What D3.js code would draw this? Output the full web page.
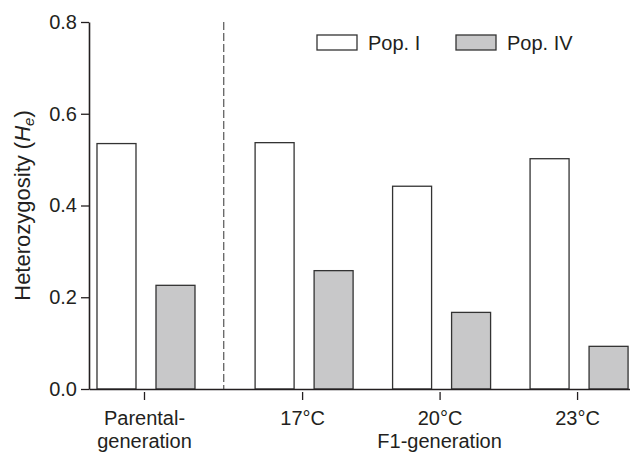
<!DOCTYPE html>
<html>
<head>
<meta charset="utf-8">
<script src="https://cdn.jsdelivr.net/npm/d3@7"></script>
<style>
  body { margin: 0; background: #fff; }
  text { font-family: "Liberation Sans", Arial, sans-serif; fill: #231f20; }
</style>
</head>
<body>
<div id="chart"></div>
<script>
// data
const categories = ['Parental-generation', '17°C', '20°C', '23°C'];
const categoryLines = [['Parental-', 'generation'], ['17°C'], ['20°C'], ['23°C']];
const series = ['Pop. I', 'Pop. IV'];
const popI = [0.535, 0.537, 0.442, 0.502];
const popIV = [0.226, 0.258, 0.167, 0.093];
const yTicks = [0, 0.2, 0.4, 0.6, 0.8];
const groupLabel = 'F1-generation';

// parental group sits a bit further away, past the dashed divider
const slot = [0, 1.15, 2.15, 3.15];
const dividerSlot = 0.58;

const width = 630, height = 454;
const colors = { 'Pop. I': '#ffffff', 'Pop. IV': '#c8c8c9' };

const svg = d3.select('#chart').append('svg')
  .attr('width', width)
  .attr('height', height);

const x = d3.scaleLinear().domain([-0.4, 3.535]).range([89, 630]);
const y = d3.scaleLinear().domain([0, 0.8]).range([389, 22]);
const sub = d3.scaleBand().domain(series).range([-47, 51]).paddingInner(0.339);

const rows = categories.map((c, i) => ({ cat: c, i, vals: [popI[i], popIV[i]] }));

// bars
const groups = svg.selectAll('.grp')
  .data(rows)
  .enter().append('g')
  .attr('class', 'grp')
  .attr('transform', d => 'translate(' + x(slot[d.i]) + ',0)');

groups.selectAll('rect')
  .data(d => series.map((s, k) => ({ s, v: d.vals[k] })))
  .enter().append('rect')
  .attr('x', d => sub(d.s))
  .attr('width', sub.bandwidth())
  .attr('y', d => y(d.v))
  .attr('height', d => y(0) - y(d.v))
  .style('fill', d => colors[d.s])
  .style('stroke', '#333')
  .style('stroke-width', 1.3);

// dashed divider
svg.append('line')
  .attr('x1', x(dividerSlot)).attr('x2', x(dividerSlot))
  .attr('y1', y(0.8)).attr('y2', y(0))
  .style('stroke', '#555')
  .style('stroke-width', 1.2)
  .style('stroke-dasharray', '8,3');

// y axis
const yAxis = d3.axisLeft(y)
  .tickValues(yTicks)
  .tickFormat(d3.format('.1f'))
  .tickSize(8)
  .tickSizeOuter(0)
  .tickPadding(4);

const gy = svg.append('g')
  .attr('transform', 'translate(' + x(-0.4) + ',0)')
  .call(yAxis);
gy.select('.domain').style('stroke', '#231f20').style('stroke-width', 1.6);
gy.selectAll('.tick line').style('stroke', '#231f20').style('stroke-width', 1.3);
gy.selectAll('.tick text')
  .style('font-family', '"Liberation Sans", Arial, sans-serif')
  .style('font-size', '20px')
  .style('fill', '#231f20');

// x axis
const xAxis = d3.axisBottom(x)
  .tickValues(slot)
  .tickSize(0)
  .tickFormat('');
const gx = svg.append('g')
  .attr('transform', 'translate(0,' + y(0) + ')')
  .call(xAxis);
gx.select('.domain').style('stroke', '#231f20').style('stroke-width', 1.6);

gx.selectAll('.tick').append('line')
  .attr('y1', 3).attr('y2', 11)
  .style('stroke', '#231f20')
  .style('stroke-width', 1.3);

gx.selectAll('.tick').each(function(d, i) {
  const t = d3.select(this).append('text')
    .attr('text-anchor', 'middle')
    .attr('y', 36)
    .style('font-size', '20px');
  categoryLines[i].forEach((ln, k) => {
    t.append('tspan').attr('x', 0).attr('dy', k === 0 ? 0 : 23).text(ln);
  });
});

svg.append('text')
  .attr('x', x(slot[2]))
  .attr('y', y(0) + 59)
  .attr('text-anchor', 'middle')
  .style('font-size', '20px')
  .text(groupLabel);

// y label
const yl = svg.append('text')
  .attr('transform', 'translate(30,' + ((y(0) + y(0.8)) / 2 + 0) + ') rotate(-90)')
  .attr('text-anchor', 'middle')
  .style('font-size', '22px');
yl.append('tspan').text('Heterozygosity (');
yl.append('tspan').style('font-style', 'italic').text('H');
yl.append('tspan').style('font-style', 'italic').style('font-size', '15px').attr('dy', 4).text('e');
yl.append('tspan').attr('dy', -4).text(')');

// legend
const legX = [317, 456];
const leg = svg.selectAll('.leg')
  .data(series)
  .enter().append('g')
  .attr('class', 'leg')
  .attr('transform', (d, i) => 'translate(' + legX[i] + ',35)');
leg.append('rect')
  .attr('width', 40).attr('height', 15)
  .style('fill', d => colors[d])
  .style('stroke', '#333')
  .style('stroke-width', 1.3);
leg.append('text')
  .attr('x', 51).attr('y', 15)
  .style('font-size', '20px')
  .text(d => d);
</script>
</body>
</html>
